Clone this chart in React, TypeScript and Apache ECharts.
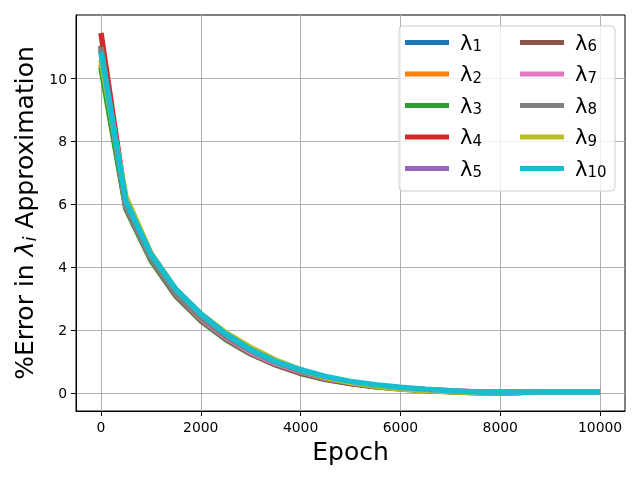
import React, { useEffect, useRef } from "react";
import * as echarts from "echarts";

const FONT = "DejaVu Sans";

// Training epochs at which the eigenvalue error was recorded
const epochs = [
  0, 500, 1000, 1500, 2000, 2500, 3000, 3500, 4000, 4500, 5000, 5500, 6000,
  6500, 7000, 7500, 8000, 8500, 9000, 9500, 10000,
];

// Percent error of each eigenvalue approximation
const lambda1 = [10.9, 5.95, 4.3, 3.15, 2.38, 1.77, 1.3, 0.94, 0.66, 0.46, 0.32, 0.22, 0.14, 0.09, 0.05, 0.02, 0.01, 0.02, 0.03, 0.03, 0.03];
const lambda2 = [10.45, 5.9, 4.28, 3.12, 2.36, 1.75, 1.28, 0.92, 0.65, 0.45, 0.31, 0.21, 0.14, 0.09, 0.05, 0.02, 0.01, 0.02, 0.03, 0.03, 0.03];
const lambda3 = [10.35, 5.85, 4.22, 3.08, 2.3, 1.7, 1.24, 0.89, 0.62, 0.43, 0.3, 0.2, 0.13, 0.08, 0.04, 0.01, 0.0, 0.02, 0.03, 0.03, 0.03];
const lambda4 = [11.45, 6.05, 4.35, 3.2, 2.4, 1.79, 1.31, 0.95, 0.67, 0.47, 0.33, 0.23, 0.15, 0.1, 0.06, 0.02, 0.01, 0.02, 0.03, 0.03, 0.03];
const lambda5 = [10.95, 5.95, 4.3, 3.14, 2.35, 1.74, 1.27, 0.92, 0.65, 0.45, 0.31, 0.22, 0.15, 0.1, 0.06, 0.03, 0.02, 0.03, 0.03, 0.03, 0.03];
const lambda6 = [11.05, 5.9, 4.26, 3.1, 2.33, 1.73, 1.26, 0.9, 0.63, 0.44, 0.3, 0.21, 0.14, 0.09, 0.05, 0.02, 0.01, 0.02, 0.03, 0.03, 0.03];
const lambda7 = [10.9, 5.95, 4.3, 3.15, 2.37, 1.76, 1.29, 0.94, 0.67, 0.47, 0.34, 0.24, 0.16, 0.11, 0.07, 0.04, 0.03, 0.03, 0.03, 0.03, 0.03];
const lambda8 = [11.0, 5.92, 4.28, 3.15, 2.4, 1.8, 1.34, 0.98, 0.7, 0.49, 0.34, 0.23, 0.15, 0.1, 0.06, 0.03, 0.02, 0.03, 0.03, 0.03, 0.03];
const lambda9 = [10.6, 6.25, 4.45, 3.3, 2.52, 1.92, 1.45, 1.05, 0.74, 0.5, 0.33, 0.22, 0.13, 0.08, 0.04, 0.01, 0.0, 0.02, 0.03, 0.03, 0.03];
const lambda10 = [10.85, 6.1, 4.42, 3.3, 2.52, 1.88, 1.38, 1.0, 0.74, 0.53, 0.37, 0.26, 0.18, 0.12, 0.07, 0.03, 0.01, 0.02, 0.03, 0.03, 0.03];

const seriesValues = [lambda1, lambda2, lambda3, lambda4, lambda5, lambda6, lambda7, lambda8, lambda9, lambda10];
const seriesNames = ["λ1", "λ2", "λ3", "λ4", "λ5", "λ6", "λ7", "λ8", "λ9", "λ10"];
const colors = [
  "#1f77b4", "#ff7f0e", "#2ca02c", "#d62728", "#9467bd",
  "#8c564b", "#e377c2", "#7f7f7f", "#bcbd22", "#17becf",
];

const xTicks = [0, 2000, 4000, 6000, 8000, 10000];
const yTicks = [0, 2, 4, 6, 8, 10];

export default function App() {
  const ref = useRef<HTMLDivElement>(null);

  useEffect(() => {
    if (!ref.current) return;
    const chart = echarts.init(ref.current, undefined, { renderer: "svg" });

    // 5% padding on each side of the data range
    const xMinD = Math.min(...epochs);
    const xMaxD = Math.max(...epochs);
    const xPad = (xMaxD - xMinD) * 0.05;
    const all = seriesValues.flat();
    const yMinD = Math.min(...all);
    const yMaxD = Math.max(...all);
    const yPad = (yMaxD - yMinD) * 0.05;

    const legendRich = {
      l: { fontFamily: FONT, fontSize: 21, lineHeight: 22, color: "#000", padding: [0, 0, 0, 6] },
      s: { fontFamily: FONT, fontSize: 15, lineHeight: 10, color: "#000", verticalAlign: "bottom" },
    };
    const legendFormatter = (name: string) => `{l|λ}{s|${name.slice(1)}}`;
    const makeLegend = (names: string[], left: number) => ({
      orient: "vertical",
      left,
      top: 32,
      padding: 0,
      itemGap: 10,
      itemWidth: 44,
      itemHeight: 5,
      icon: "rect",
      z: 10,
      data: names,
      formatter: legendFormatter,
      textStyle: { rich: legendRich },
    });

    const tickLabel = (v: number) => String(v);

    chart.setOption({
      animation: false,
      color: colors,
      grid: {
        left: 76,
        right: 15,
        top: 15,
        bottom: 69,
        show: true,
        borderColor: "#000",
        borderWidth: 1,
      },
      legend: [
        makeLegend(seriesNames.slice(0, 5), 405),
        makeLegend(seriesNames.slice(5), 520),
      ],
      graphic: [
        {
          type: "rect",
          z: 5,
          shape: { x: 399, y: 26, width: 216, height: 165, r: 4 },
          style: { fill: "rgba(255,255,255,0.8)", stroke: "#cccccc", lineWidth: 1 },
        },
      ],
      xAxis: {
        type: "value",
        min: xMinD - xPad,
        max: xMaxD + xPad,
        name: "Epoch",
        nameLocation: "middle",
        nameGap: 27,
        nameTextStyle: { fontFamily: FONT, fontSize: 25, color: "#000" },
        axisLine: { show: true, onZero: false, lineStyle: { color: "#000", width: 1 } },
        axisTick: { show: true, customValues: xTicks, length: 5, lineStyle: { color: "#000" } },
        axisLabel: { customValues: xTicks, formatter: tickLabel, margin: 9, fontFamily: FONT, fontSize: 13.9, color: "#000" },
        splitLine: { show: true, lineStyle: { color: "#b0b0b0", width: 1 } },
      },
      yAxis: {
        type: "value",
        min: yMinD - yPad,
        max: yMaxD + yPad,
        name: "%Error in {l|λ}{s|i} Approximation",
        nameLocation: "middle",
        nameGap: 34,
        nameTextStyle: {
          fontFamily: FONT,
          fontSize: 25,
          color: "#000",
          rich: {
            l: { fontFamily: FONT, fontSize: 25, fontStyle: "italic", color: "#000", lineHeight: 28 },
            s: { fontFamily: FONT, fontSize: 18, fontStyle: "italic", color: "#000", lineHeight: 12, verticalAlign: "bottom" },
          },
        },
        axisLine: { show: true, onZero: false, lineStyle: { color: "#000", width: 1 } },
        axisTick: { show: true, customValues: yTicks, length: 5, lineStyle: { color: "#000" } },
        axisLabel: { customValues: yTicks, formatter: tickLabel, margin: 9, fontFamily: FONT, fontSize: 13.9, color: "#000" },
        splitLine: { show: true, lineStyle: { color: "#b0b0b0", width: 1 } },
      },
      series: seriesValues.map((vals, i) => ({
        type: "line",
        name: seriesNames[i],
        data: epochs.map((e, j) => [e, vals[j]]),
        showSymbol: false,
        symbol: "none",
        lineStyle: { width: 5.5, color: colors[i] },
        itemStyle: { color: colors[i] },
        z: 2,
      })),
    });

    return () => chart.dispose();
  }, []);

  return (
    <div
      ref={ref}
      style={{ position: "fixed", left: 0, top: 0, width: 640, height: 480 }}
    />
  );
}
